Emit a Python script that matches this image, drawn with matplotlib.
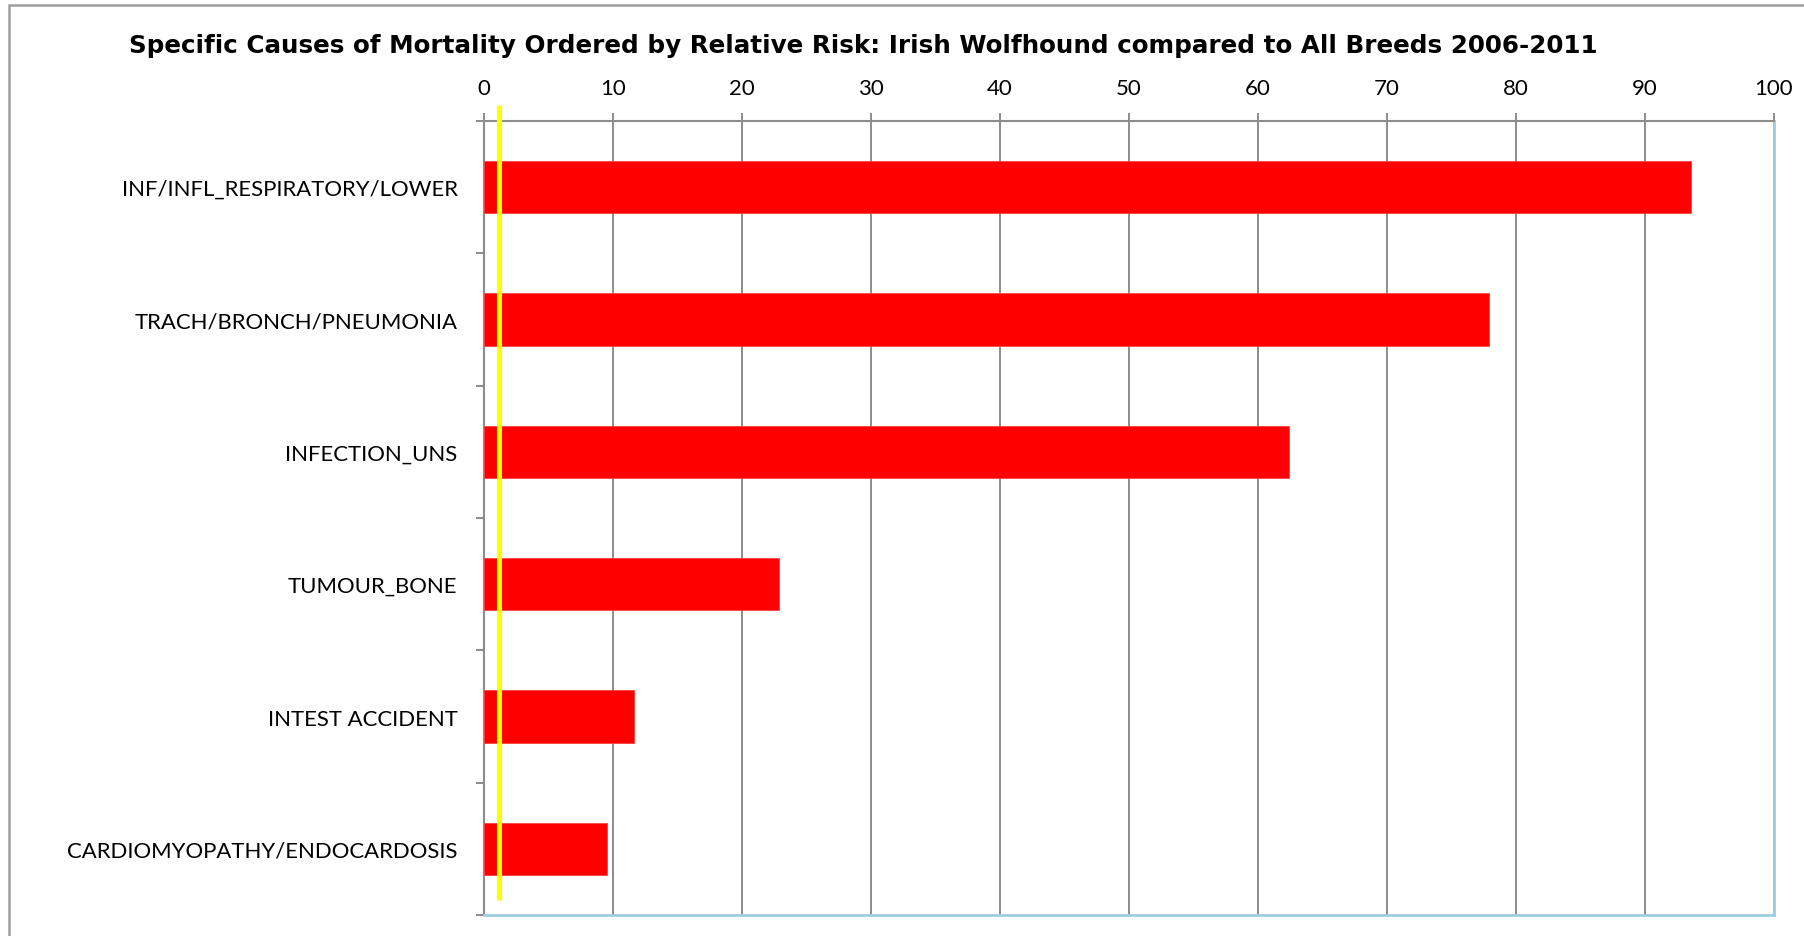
import matplotlib
matplotlib.use("Agg")
import matplotlib.pyplot as plt
from matplotlib.patches import Rectangle
import numpy as np

# ---- data ----
categories = [
    "INF/INFL_RESPIRATORY/LOWER",
    "TRACH/BRONCH/PNEUMONIA",
    "INFECTION_UNS",
    "TUMOUR_BONE",
    "INTEST ACCIDENT",
    "CARDIOMYOPATHY/ENDOCARDOSIS",
]
relative_risk = [93.6, 77.9, 62.4, 22.9, 11.6, 9.5]
x_ticks = [0, 10, 20, 30, 40, 50, 60, 70, 80, 90, 100]
ref_value = 1.2           # reference line (relative risk ~1)
ref_extent = [-0.623, 5.384]  # vertical extent of reference line in category units
title = ("Specific Causes of Mortality Ordered by Relative Risk: "
         "Irish Wolfhound compared to All Breeds 2006-2011")

W, H = 1804, 937
fig = plt.figure(figsize=(W / 100, H / 100), dpi=100)

# outer chart frame (cropped at right and bottom)
fig.patches.append(Rectangle((8.5 / W, -0.1), 1.2, 1 - 5.5 / H + 0.1,
                             transform=fig.transFigure, fill=False,
                             edgecolor="#A0A0A0", linewidth=1.8, zorder=0))

ax = fig.add_axes([484 / W, 1 - 916 / H, (1774 - 484) / W, (916 - 122) / H])

y = np.arange(len(categories))
ax.barh(y, relative_risk, height=0.395, color="#FF0000", edgecolor="#FF4040",
        linewidth=0.6, zorder=3)
ax.plot([ref_value, ref_value], ref_extent, color="#FFFF00", linewidth=3.7,
        solid_capstyle="butt", clip_on=False, zorder=4)

ax.set_xlim(0, 100)
ax.set_ylim(len(categories) - 0.5, -0.5)

ax.xaxis.tick_top()
ax.set_xticks(x_ticks)
ax.set_xticklabels([str(v) for v in x_ticks], fontfamily="Lato", fontsize=16)
ax.tick_params(axis="x", which="major", direction="out", length=5.8, width=1.4,
               color="#8C8C8C", pad=10.5, top=True, bottom=False)

ax.set_yticks(y)
ax.set_yticklabels(categories, fontfamily="Lato", fontsize=15.9)
ax.set_yticks(np.arange(-0.5, len(categories) + 0.5, 1), minor=True)
ax.tick_params(axis="y", which="major", length=0, pad=19)
ax.tick_params(axis="y", which="minor", direction="out", length=5.8, width=1.4,
               color="#8C8C8C")

ax.grid(axis="x", color="#8C8C8C", linewidth=1.4, zorder=1)
ax.set_axisbelow(True)

for side in ("top", "left"):
    ax.spines[side].set_color("#8C8C8C")
    ax.spines[side].set_linewidth(1.5)
for side in ("bottom", "right"):
    ax.spines[side].set_color("#9DCDE0")
    ax.spines[side].set_linewidth(2.0)

# title, sized so that its width matches the reference layout
t = fig.text(863.7 / W, 1 - 52.5 / H, title, ha="center", va="baseline",
             fontfamily="DejaVu Sans", fontweight="bold", fontsize=18)
renderer = fig.canvas.get_renderer()
target_w = 1469.0
w = t.get_window_extent(renderer).width
t.set_fontsize(18 * target_w / w)

fig.savefig("out.png", dpi=100)
